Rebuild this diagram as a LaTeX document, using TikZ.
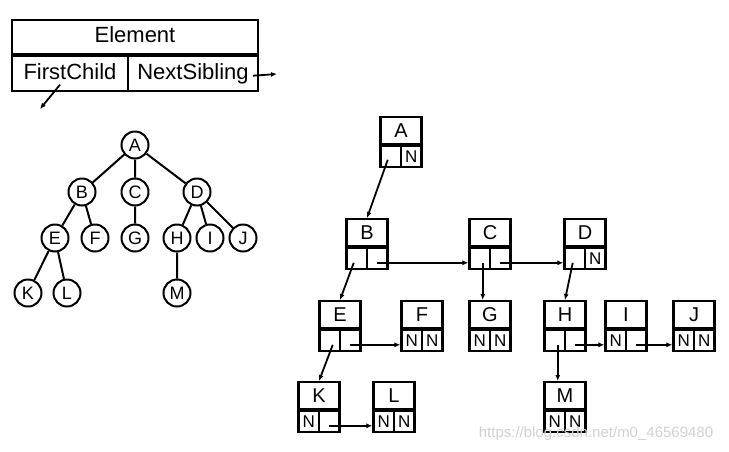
\documentclass[tikz,border=0pt]{standalone}
\usepackage{fontspec}
\setmainfont{Liberation Sans}
\usetikzlibrary{arrows.meta,positioning}
\tikzset{
  head/.style={draw, line width=2.2pt, anchor=north, minimum width=41pt, minimum height=27pt, inner sep=0pt, font=\fontsize{20}{20}\selectfont},
  cell/.style={draw, line width=2.2pt, minimum width=20.5pt, minimum height=21pt, inner sep=0pt, font=\fontsize{17}{17}\selectfont},
  tnode/.style={draw, circle, line width=2pt, minimum size=27pt, inner sep=0pt, font=\fontsize{18}{18}\selectfont},
  field/.style={draw, line width=2.2pt, minimum height=35pt, inner sep=0pt, text height=15pt, text depth=4pt, font=\fontsize{22}{22}\selectfont},
  link/.style={line width=1.8pt, -{Latex[length=6pt,width=5pt]}},
}
% name, x, top, letter, left cell, right cell
\newcommand{\elem}[6]{%
  \node[head] (#1) at (#2,#3) {#4};
  \node[cell, anchor=north west] (#1l) at (#1.south west) {#5};
  \node[cell, anchor=north east] (#1r) at (#1.south east) {#6};
}
\begin{document}
\begin{tikzpicture}[x=1pt,y=-1pt]
\useasboundingbox (0,0) rectangle (729,451);

% the Element record
\node[field, minimum width=246pt, minimum height=34pt] (rec) at (135,37) {Element};
\node[field, minimum width=116pt, anchor=north west] (fc) at (rec.south west) {FirstChild};
\node[field, minimum width=130pt, anchor=north east] (ns) at (rec.south east) {NextSibling};
\coordinate (fcend) at (40,109);
\coordinate (nsend) at (277,74);
\draw[link] ([shift={(-10pt,-11pt)}]fc.center) -- (fcend);
\draw[link] ([shift={(-6pt,-2pt)}]ns.east) -- (nsend);

% the tree
\node[tnode] (tA) at (135,145) {A};
\node[tnode] (tB) at (82,192) {B};
\node[tnode] (tC) at (135,192) {C};
\node[tnode] (tD) at (197,192) {D};
\node[tnode] (tE) at (55,238) {E};
\node[tnode] (tF) at (95,238) {F};
\node[tnode] (tG) at (135,238) {G};
\node[tnode] (tH) at (177,238) {H};
\node[tnode] (tI) at (210,238) {I};
\node[tnode] (tJ) at (243,238) {J};
\node[tnode] (tK) at (28,293) {K};
\node[tnode] (tL) at (67,293) {L};
\node[tnode] (tM) at (177,293) {M};
\draw[line width=2pt] (tA) -- (tB) (tA) -- (tC) (tA) -- (tD)
  (tB) -- (tE) (tB) -- (tF) (tC) -- (tG)
  (tD) -- (tH) (tD) -- (tI) (tD) -- (tJ)
  (tE) -- (tK) (tE) -- (tL) (tH) -- (tM);

% the linked records
\elem{eA}{401}{116}{A}{}{N}
\elem{eB}{367}{218}{B}{}{}
\elem{eC}{490}{218}{C}{}{}
\elem{eD}{585}{218}{D}{}{N}
\elem{eE}{340}{300}{E}{}{}
\elem{eF}{422}{300}{F}{N}{N}
\elem{eG}{490}{300}{G}{N}{N}
\elem{eH}{565}{300}{H}{}{}
\elem{eI}{626}{300}{I}{N}{}
\elem{eJ}{694}{300}{J}{N}{N}
\elem{eK}{319}{381}{K}{N}{}
\elem{eL}{394}{381}{L}{N}{N}
\elem{eM}{565}{381}{M}{N}{N}

\draw[link] ([shift={(-3pt,-3pt)}]eAl.center) -- (eB.north);
\draw[link] ([shift={(-3pt,-4pt)}]eBl.center) -- (eE.north);
\draw[link] ([shift={(-2pt,-4pt)}]eDl.center) -- (eH.north);
\draw[link] ([shift={(3pt,-4pt)}]eEl.center) -- (eK.north);
\draw[link] ([shift={(3pt,-4pt)}]eCl.center) -- ([xshift=3pt]eCl.center |- eG.north);
\draw[link] ([shift={(3pt,-4pt)}]eHl.center) -- ([xshift=3pt]eHl.center |- eM.north);
\draw[link] ([yshift=-4pt]eBr.center) -- ([yshift=-4pt]eCl.west);
\draw[link] ([yshift=-4pt]eCr.center) -- ([yshift=-4pt]eDl.west);
\draw[link] ([yshift=-4pt]eEr.center) -- ([yshift=-4pt]eFl.west);
\draw[link] ([yshift=-4pt]eKr.center) -- ([yshift=-4pt]eLl.west);
\draw[link] ([yshift=-4pt]eHr.center) -- ([yshift=-4pt]eIl.west);
\draw[link] ([yshift=-4pt]eIr.center) -- ([yshift=-4pt]eJl.west);

\node[text=black!18, font=\fontsize{15}{15}\selectfont] (mark) at (596,434) {https://blog.csdn.net/m0\_46569480};
\end{tikzpicture}
\end{document}
